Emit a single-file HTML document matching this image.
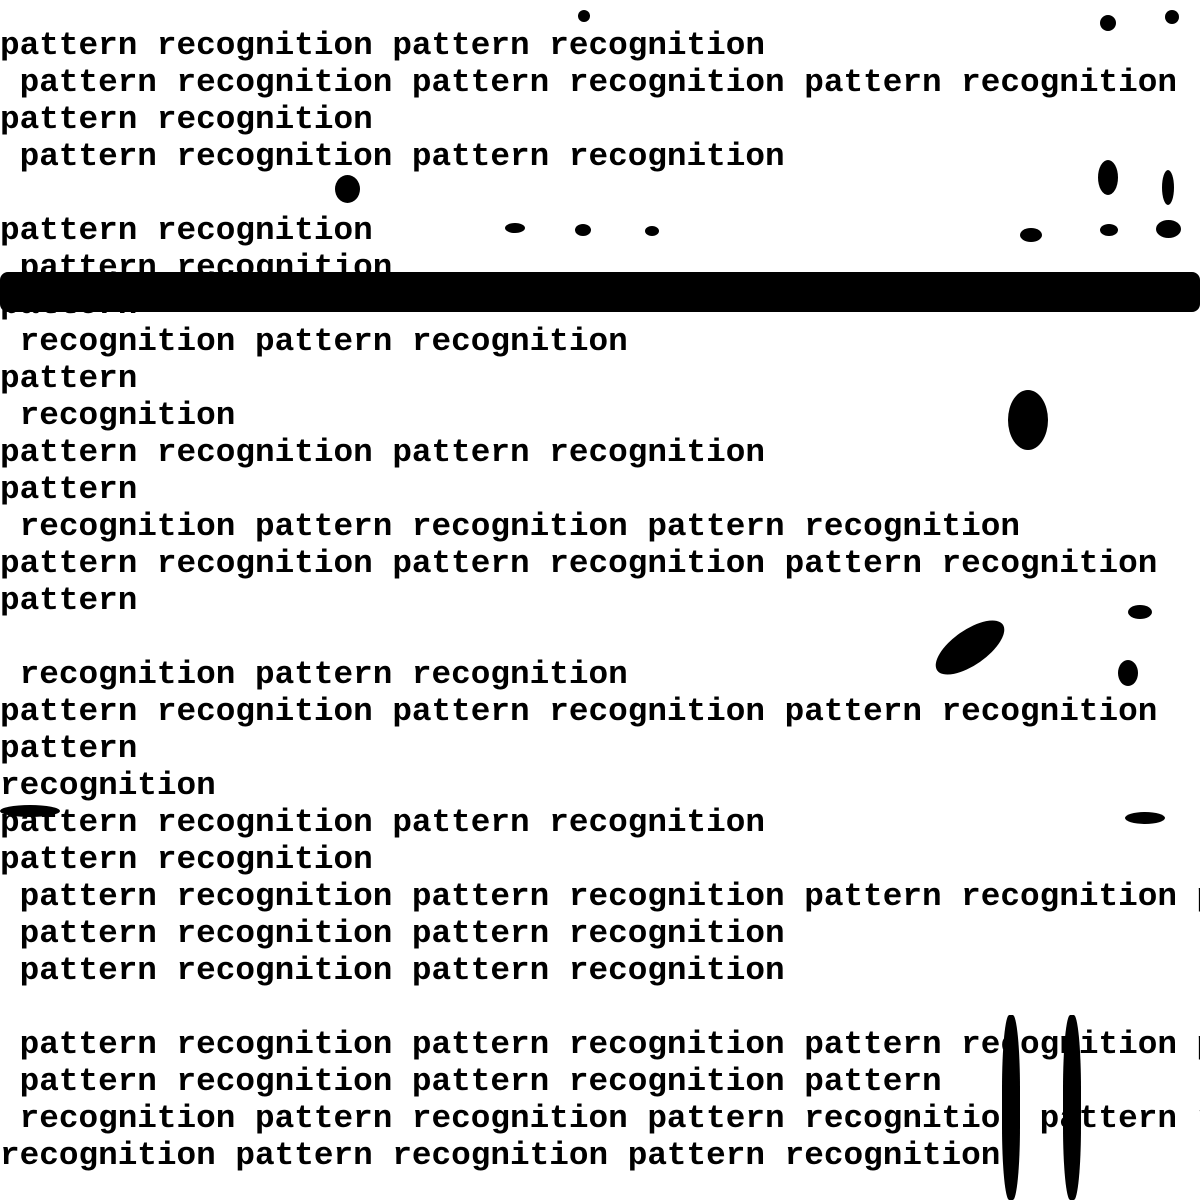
<!DOCTYPE html>
<html><head><meta charset="utf-8"><style>
html,body{margin:0;padding:0;background:#fff;width:1200px;height:1200px;overflow:hidden;position:relative}
pre{position:absolute;left:0;top:27px;margin:0;font-family:"Liberation Mono",monospace;font-weight:bold;font-size:32.7px;line-height:37px;color:#000;white-space:pre}
.b{position:absolute;background:#000;border-radius:50%}
</style></head><body>
<pre>pattern recognition pattern recognition
 pattern recognition pattern recognition pattern recognition
pattern recognition
 pattern recognition pattern recognition

pattern recognition
 pattern recognition
pattern
 recognition pattern recognition
pattern
 recognition
pattern recognition pattern recognition
pattern
 recognition pattern recognition pattern recognition
pattern recognition pattern recognition pattern recognition
pattern

 recognition pattern recognition
pattern recognition pattern recognition pattern recognition
pattern
recognition
pattern recognition pattern recognition
pattern recognition
 pattern recognition pattern recognition pattern recognition p
 pattern recognition pattern recognition
 pattern recognition pattern recognition

 pattern recognition pattern recognition pattern recognition p
 pattern recognition pattern recognition pattern
 recognition pattern recognition pattern recognition pattern r
recognition pattern recognition pattern recognition</pre>
<div class="b" style="left:0;top:272px;width:1200px;height:40px;border-radius:8px"></div>
<div class="b" style="left:1008px;top:390px;width:40px;height:60px"></div>
<div class="b" style="left:1098px;top:160px;width:20px;height:35px"></div>
<div class="b" style="left:1162px;top:170px;width:12px;height:35px"></div>
<div class="b" style="left:335px;top:175px;width:25px;height:28px"></div>
<div class="b" style="left:1020px;top:228px;width:22px;height:14px"></div>
<div class="b" style="left:1100px;top:224px;width:18px;height:12px"></div>
<div class="b" style="left:1156px;top:220px;width:25px;height:18px"></div>
<div class="b" style="left:505px;top:223px;width:20px;height:10px"></div>
<div class="b" style="left:575px;top:224px;width:16px;height:12px"></div>
<div class="b" style="left:645px;top:226px;width:14px;height:10px"></div>
<div class="b" style="left:1100px;top:15px;width:16px;height:16px"></div>
<div class="b" style="left:1165px;top:10px;width:14px;height:14px"></div>
<div class="b" style="left:578px;top:10px;width:12px;height:12px"></div>
<div class="b" style="left:930px;top:630px;width:80px;height:35px;transform:rotate(-35deg)"></div>
<div class="b" style="left:1128px;top:605px;width:24px;height:14px"></div>
<div class="b" style="left:1118px;top:660px;width:20px;height:26px"></div>
<div class="b" style="left:1125px;top:812px;width:40px;height:12px"></div>
<div class="b" style="left:0;top:805px;width:60px;height:12px"></div>
<div class="b" style="left:1002px;top:1015px;width:18px;height:185px;border-radius:40%"></div>
<div class="b" style="left:1063px;top:1015px;width:18px;height:185px;border-radius:40%"></div>
</body></html>
